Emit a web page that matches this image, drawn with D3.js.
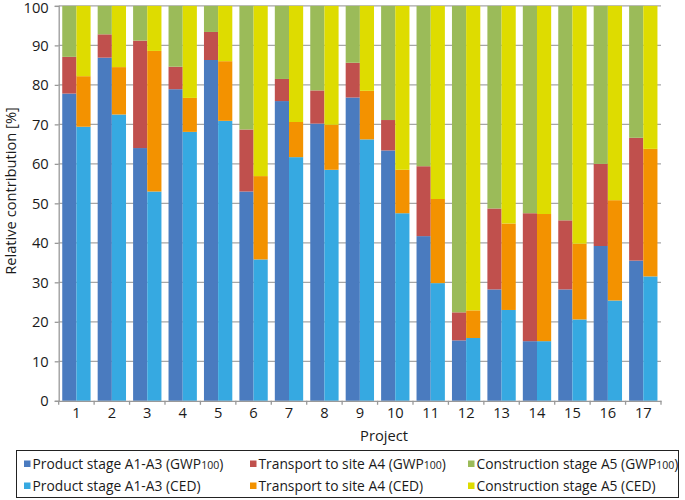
<!DOCTYPE html>
<html><head><meta charset="utf-8">
<script src="https://cdn.jsdelivr.net/npm/d3@7"></script>
<style>body{margin:0;background:#fff;} text{font-family:"Open Sans","Noto Sans",sans-serif;}</style>
</head><body>
<svg id="c" width="685" height="500"></svg>
<script>
const projects = ["1","2","3","4","5","6","7","8","9","10","11","12","13","14","15","16","17"];
const gwpA13 = [77.8, 86.9, 64.0, 78.9, 86.3, 53.0, 75.9, 70.2, 76.8, 63.4, 41.7, 15.3, 28.2, 15.1, 28.2, 39.2, 35.5];
const gwpA4  = [9.3, 5.9, 27.2, 5.7, 7.1, 15.7, 5.6, 8.4, 8.8, 7.7, 17.7, 7.1, 20.5, 32.4, 17.5, 20.8, 31.1];
const gwpA5  = [12.9, 7.2, 8.8, 15.4, 6.6, 31.3, 18.5, 21.4, 14.4, 28.9, 40.6, 77.6, 51.3, 52.5, 54.3, 40.0, 33.4];
const cedA13 = [69.4, 72.5, 53.0, 68.1, 70.9, 35.8, 61.7, 58.5, 66.2, 47.5, 29.8, 15.9, 23.0, 15.1, 20.6, 25.4, 31.5];
const cedA4  = [12.8, 12.0, 35.6, 8.6, 15.1, 21.1, 8.9, 11.4, 12.3, 11.0, 21.3, 7.0, 21.9, 32.2, 19.2, 25.4, 32.3];
const cedA5  = [17.8, 15.5, 11.4, 23.3, 14.0, 43.1, 29.4, 30.1, 21.5, 41.5, 48.9, 77.1, 55.1, 52.7, 60.2, 49.2, 36.2];
const yTicks = [0,10,20,30,40,50,60,70,80,90,100];
const legendLabels = [
  ["Product stage A1-A3 (GWP", "100", ")"],
  ["Transport to site A4 (GWP", "100", ")"],
  ["Construction stage A5 (GWP", "100", ")"],
  ["Product stage A1-A3 (CED)"],
  ["Transport to site A4 (CED)"],
  ["Construction stage A5 (CED)"]
];
const colors = ["#4A7BBF","#C0504D","#9BBB59","#36A9E1","#F39200","#DEDC00"];

const FS = 14.7, LFS = 13.8;
const svg = d3.select("#c");
const L = 58.7, R = 661, T = 5.9, B = 400.8;
const x = d3.scaleBand().domain(projects).range([L, R]).padding(0);
const step = x.bandwidth();
const sub = d3.scaleBand().domain(["GWP","CED"]).range([step*0.1, step*0.9]).padding(0);
const y = d3.scaleLinear().domain([0,100]).range([B, T]);

// gridlines
svg.append("g").selectAll("line").data(yTicks.filter(d=>d>0)).join("line")
  .attr("x1", L).attr("x2", R).attr("y1", d=>y(d)).attr("y2", d=>y(d))
  .attr("stroke", "#a6a6a6").attr("stroke-width", 1.3);

// bars
const groups = [
  {key:"GWP", series:[gwpA13,gwpA4,gwpA5], colorIdx:[0,1,2]},
  {key:"CED", series:[cedA13,cedA4,cedA5], colorIdx:[3,4,5]}
];
groups.forEach(g => {
  const rows = projects.map((p,i)=>{ const o={p}; g.series.forEach((s,k)=>o["s"+k]=s[i]); return o; });
  const stack = d3.stack().keys(["s0","s1","s2"])(rows);
  stack.forEach((layer,k)=>{
    svg.append("g").selectAll("rect").data(layer).join("rect")
      .attr("x", d=>x(d.data.p)+sub(g.key))
      .attr("width", sub.bandwidth())
      .attr("y", d=>y(Math.min(d[1],100)))
      .attr("height", d=>y(d[0])-y(Math.min(d[1],100)))
      .attr("fill", colors[g.colorIdx[k]]);
  });
});

// y axis
const yAxis = d3.axisLeft(y).tickValues(yTicks).tickSize(4).tickPadding(6);
const gy = svg.append("g").attr("transform", `translate(${L},0)`).call(yAxis);
gy.select(".domain").attr("stroke","#999").attr("stroke-width",1.3);
gy.selectAll(".tick line").attr("stroke","#999").attr("stroke-width",1.3);
gy.selectAll(".tick text").attr("font-size",FS).attr("fill","#1a1a1a")
  .attr("dy", d => d === 100 ? "0.42em" : "0.32em");

// x axis
const gx = svg.append("g").attr("transform", `translate(0,${B})`)
  .call(d3.axisBottom(x).tickSize(0).tickPadding(5));
gx.select(".domain").attr("stroke","#999").attr("stroke-width",1.3);
gx.selectAll(".tick text").attr("font-size",FS).attr("fill","#1a1a1a").attr("dy","0.8em");
// boundary ticks
svg.append("g").selectAll("line").data(d3.range(projects.length+1)).join("line")
  .attr("x1", i=>L+i*step).attr("x2", i=>L+i*step).attr("y1", B).attr("y2", B+4)
  .attr("stroke","#999").attr("stroke-width",1.3);

// axis titles
svg.append("text").attr("x", 384).attr("y", 441).attr("text-anchor","middle")
  .attr("font-size",FS).attr("fill","#1a1a1a").text("Project");
svg.append("text").attr("transform","translate(16,191) rotate(-90)").attr("text-anchor","middle")
  .attr("font-size",FS).attr("fill","#1a1a1a").text("Relative contribution [%]");

// legend
svg.append("rect").attr("x",16.5).attr("y",450.5).attr("width",662).attr("height",47)
  .attr("fill","none").attr("stroke","#222").attr("stroke-width",1);
const colX = [24, 250, 468];
const rowY = [464, 486];
legendLabels.forEach((lab,i)=>{
  const cx = colX[i%3], cy = rowY[Math.floor(i/3)];
  svg.append("rect").attr("x",cx).attr("y",cy-3.5).attr("width",6.5).attr("height",6.5).attr("fill",colors[i]);
  const t = svg.append("text").attr("x",cx+8.5).attr("y",cy+5).attr("font-size",LFS).attr("fill","#1a1a1a");
  t.append("tspan").text(lab[0]);
  if (lab.length>1) {
    t.append("tspan").attr("font-size",10.5).text(lab[1]);
    t.append("tspan").text(lab[2]);
  }
});
</script>
</body></html>
